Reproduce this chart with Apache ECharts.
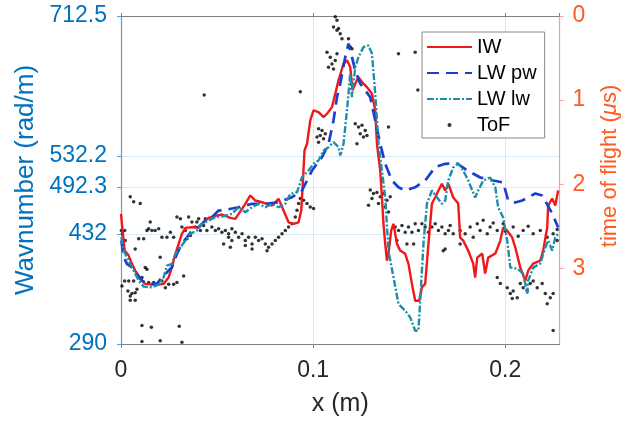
<!DOCTYPE html>
<html>
<head>
<meta charset="utf-8">
<script src="https://cdn.jsdelivr.net/npm/echarts@6/dist/echarts.min.js"></script>
<style>html,body{margin:0;padding:0;background:#fff}#c{width:634px;height:423px}</style>
</head>
<body>
<div id="c"></div>
<script>
// ---- data ----
const xTicks = [0, 0.1, 0.2];
const leftTicks = [290, 432, 492.3, 532.2, 712.5];
const rightTicks = [0, 1, 2, 3];
const seriesNames = ['IW', 'LW pw', 'LW lw', 'ToF'];

const iw = [[0.000,457.6],[0.0008,436.1],[0.0019,410.3],[0.0040,403.9],[0.0057,393.2],[0.0074,384.5],[0.0100,373.8],[0.0126,367.4],[0.0161,366.5],[0.0196,366.5],[0.0222,367.4],[0.0248,375.9],[0.0265,388.8],[0.0283,406.1],[0.0300,419.0],[0.0317,431.8],[0.0335,439.6],[0.0369,440.4],[0.0404,440.4],[0.0430,446.8],[0.0456,452.5],[0.0491,455.1],[0.0525,456.8],[0.0569,452.5],[0.0595,451.2],[0.0647,470.6],[0.0673,481.3],[0.0699,474.8],[0.0734,472.6],[0.0760,470.6],[0.0786,468.4],[0.0820,477.0],[0.0846,461.9],[0.0872,446.8],[0.0898,444.8],[0.0924,446.8],[0.0938,461.9],[0.0945,492.0],[0.0955,539.3],[0.0968,547.9],[0.0985,578.0],[0.1002,590.9],[0.1028,588.7],[0.1054,582.2],[0.1072,586.6],[0.1098,595.1],[0.1115,612.4],[0.1132,629.6],[0.1158,651.1],[0.1176,655.4],[0.1193,646.7],[0.1205,616.7],[0.1219,625.3],[0.1236,633.8],[0.1254,627.4],[0.1280,620.9],[0.1306,612.4],[0.1323,590.9],[0.1332,547.9],[0.1349,513.5],[0.1358,479.1],[0.1366,444.8],[0.1375,419.0],[0.1384,397.4],[0.1392,406.1],[0.1406,436.1],[0.1418,444.8],[0.1436,419.0],[0.1453,410.3],[0.1479,406.1],[0.1496,393.2],[0.1514,367.4],[0.1531,345.8],[0.1552,345.8],[0.1566,363.0],[0.1583,367.4],[0.1600,419.0],[0.1618,470.6],[0.1635,479.1],[0.1652,487.7],[0.1670,496.3],[0.1687,487.7],[0.1704,496.3],[0.1729,478.7],[0.1755,470.9],[0.1765,427.1],[0.1781,423.2],[0.1807,410.3],[0.1833,393.6],[0.1843,375.5],[0.1854,401.3],[0.1880,406.5],[0.1895,380.7],[0.1911,401.3],[0.1948,406.5],[0.1974,423.2],[0.1989,440.0],[0.2010,436.1],[0.2036,427.1],[0.2052,414.2],[0.2078,388.4],[0.2104,371.6],[0.2119,384.5],[0.2145,393.6],[0.2182,397.4],[0.2197,410.3],[0.2218,440.0],[0.2223,468.4],[0.2244,477.4],[0.2260,468.4],[0.2275,487.7]];

const lwPw = [[0.0002,423.2],[0.0014,401.7],[0.0031,393.2],[0.0057,388.8],[0.0083,380.3],[0.0109,371.6],[0.0144,367.4],[0.0187,367.4],[0.0213,375.9],[0.0265,388.8],[0.0291,406.1],[0.0317,419.0],[0.0343,427.5],[0.0369,436.1],[0.0404,440.4],[0.0439,449.0],[0.0473,453.3],[0.0508,461.9],[0.0543,462.8],[0.0612,466.2],[0.0682,470.6],[0.0751,470.6],[0.0820,472.6],[0.0890,479.1],[0.0942,487.7],[0.0994,513.5],[0.1046,530.6],[0.1080,547.9],[0.1106,578.0],[0.1124,608.0],[0.1141,625.3],[0.1167,659.6],[0.1184,676.9],[0.1202,659.6],[0.1219,642.5],[0.1245,625.3],[0.1271,616.7],[0.1297,608.0],[0.1323,578.0],[0.1349,547.9],[0.1375,522.1],[0.1410,500.6],[0.1444,491.9],[0.1479,487.7],[0.1531,491.9],[0.1583,500.6],[0.1635,517.8],[0.1687,522.1],[0.1750,522.5],[0.1802,513.5],[0.1870,504.5],[0.1937,500.6],[0.1989,498.0],[0.2015,474.8],[0.2052,472.2],[0.2088,474.8],[0.2156,483.8],[0.2192,481.3],[0.2244,458.0],[0.2275,440.0]];

const lwLw = [[0.0002,427.5],[0.0014,410.3],[0.0040,397.4],[0.0066,384.5],[0.0092,371.6],[0.0118,363.9],[0.0161,363.0],[0.0196,366.5],[0.0222,375.9],[0.0239,391.0],[0.0265,393.2],[0.0283,406.1],[0.0309,414.6],[0.0335,423.2],[0.0360,431.9],[0.0395,436.1],[0.0421,444.8],[0.0456,449.0],[0.0491,453.3],[0.0525,454.2],[0.0577,457.7],[0.0612,466.2],[0.0647,459.7],[0.0682,466.2],[0.0716,470.6],[0.0751,466.2],[0.0786,470.6],[0.0820,466.2],[0.0855,470.6],[0.0881,483.4],[0.0916,485.5],[0.0942,504.9],[0.0976,513.5],[0.1002,522.1],[0.1028,526.4],[0.1054,539.3],[0.1080,543.5],[0.1106,550.0],[0.1132,543.5],[0.1141,532.8],[0.1158,547.9],[0.1176,590.9],[0.1193,638.2],[0.1202,608.0],[0.1219,646.7],[0.1236,659.6],[0.1262,672.5],[0.1288,674.7],[0.1306,664.0],[0.1323,612.4],[0.1340,547.9],[0.1358,513.5],[0.1375,479.1],[0.1392,410.3],[0.1418,375.9],[0.1444,341.6],[0.1479,332.9],[0.1505,324.3],[0.1531,307.1],[0.1548,307.1],[0.1557,345.8],[0.1574,419.0],[0.1592,470.6],[0.1618,487.7],[0.1644,479.1],[0.1670,470.6],[0.1687,474.8],[0.1703,500.6],[0.1729,517.4],[0.1755,522.5],[0.1781,513.5],[0.1807,500.6],[0.1843,478.7],[0.1859,487.7],[0.1885,500.6],[0.1921,504.5],[0.1948,491.6],[0.1963,465.8],[0.1989,452.9],[0.2010,423.2],[0.2026,388.4],[0.2062,387.1],[0.2093,380.7],[0.2114,354.9],[0.2119,371.6],[0.2145,388.4],[0.2182,393.6],[0.2208,414.2],[0.2223,423.2],[0.2244,410.3],[0.2260,427.1],[0.2275,432.3]];

// time of flight (microseconds) samples
const tof = [[0.0002,2.55],[0.0008,2.59],[0.0019,2.55],[0.0022,2.67],[0.0005,3.21],[0.0019,3.15],[0.0040,3.15],[0.0036,3.27],[0.0048,3.33],[0.0057,3.30],[0.0074,3.29],[0.0066,3.15],[0.0083,3.25],[0.0092,3.11],[0.0048,3.38],[0.0074,3.38],[0.0048,2.15],[0.0066,2.21],[0.0100,2.23],[0.0074,2.77],[0.0092,2.65],[0.0118,2.65],[0.0135,2.55],[0.0144,2.53],[0.0152,2.45],[0.0161,2.55],[0.0178,2.55],[0.0196,2.53],[0.0126,2.99],[0.0135,3.01],[0.0109,3.11],[0.0144,3.17],[0.0170,3.17],[0.0187,3.19],[0.0213,3.15],[0.0231,3.23],[0.0248,3.19],[0.0274,3.19],[0.0291,3.17],[0.0326,3.09],[0.0204,2.87],[0.0213,2.63],[0.0239,2.63],[0.0257,2.57],[0.0274,2.63],[0.0291,2.39],[0.0309,2.41],[0.0317,2.51],[0.0335,2.55],[0.0352,2.39],[0.0369,2.45],[0.0387,2.51],[0.0395,2.45],[0.0413,2.55],[0.0430,2.49],[0.0447,2.55],[0.0473,2.51],[0.0491,2.55],[0.0508,2.53],[0.0525,2.57],[0.0543,2.55],[0.0560,2.63],[0.0534,2.71],[0.0439,2.41],[0.0404,2.41],[0.0343,2.65],[0.0361,2.61],[0.0109,3.68],[0.0158,3.70],[0.0303,3.69],[0.0109,3.87],[0.0204,3.86],[0.0317,3.88],[0.0433,0.94],[0.0560,2.59],[0.0577,2.53],[0.0595,2.57],[0.0612,2.63],[0.0630,2.59],[0.0647,2.67],[0.0664,2.63],[0.0682,2.71],[0.0699,2.63],[0.0716,2.67],[0.0734,2.65],[0.0751,2.71],[0.0768,2.75],[0.0786,2.71],[0.0803,2.67],[0.0820,2.63],[0.0838,2.59],[0.0855,2.55],[0.0872,2.51],[0.0890,2.47],[0.0907,2.39],[0.0916,2.31],[0.0924,2.23],[0.0933,2.17],[0.0950,2.19],[0.0968,2.23],[0.0985,2.27],[0.1002,2.29],[0.0577,2.67],[0.0647,2.73],[0.0682,2.77],[0.0760,2.79],[0.0569,2.75],[0.0933,0.90],[0.1028,1.34],[0.1046,1.36],[0.1037,1.42],[0.1020,1.44],[0.1054,1.46],[0.1028,1.50],[0.1063,1.40],[0.1072,0.43],[0.1089,0.49],[0.1098,0.57],[0.1106,0.63],[0.1115,0.53],[0.1080,0.61],[0.1124,0.45],[0.1106,0.13],[0.1124,0.17],[0.1115,0.01],[0.1132,0.15],[0.1141,0.21],[0.1150,0.27],[0.1184,0.27],[0.1193,0.37],[0.1202,0.39],[0.1124,0.05],[0.1219,1.28],[0.1236,1.32],[0.1254,1.30],[0.1271,1.36],[0.1245,1.40],[0.1280,1.42],[0.1262,1.44],[0.1228,1.52],[0.1444,0.45],[0.1531,0.43],[0.1545,0.88],[0.1392,1.32],[0.1297,2.07],[0.1314,2.11],[0.1332,2.10],[0.1349,2.15],[0.1366,2.11],[0.1384,2.19],[0.1401,2.15],[0.1306,2.17],[0.1288,2.25],[0.1375,2.27],[0.1392,2.33],[0.1340,2.23],[0.1427,2.51],[0.1444,2.55],[0.1462,2.49],[0.1479,2.57],[0.1496,2.51],[0.1514,2.57],[0.1531,2.47],[0.1548,2.55],[0.1566,2.47],[0.1583,2.51],[0.1600,2.57],[0.1618,2.51],[0.1635,2.47],[0.1652,2.55],[0.1670,2.51],[0.1687,2.59],[0.1704,2.55],[0.1488,2.71],[0.1523,2.71],[0.1687,2.77],[0.1436,2.67],[0.1729,2.59],[0.1765,2.55],[0.1817,2.51],[0.1854,2.47],[0.1885,2.43],[0.1921,2.51],[0.1958,2.55],[0.1989,2.47],[0.2041,2.51],[0.2093,2.55],[0.2145,2.59],[0.2182,2.55],[0.2218,2.63],[0.2249,2.59],[0.1677,2.79],[0.1765,2.71],[0.1833,2.63],[0.1958,3.11],[0.1974,3.18],[0.2010,3.23],[0.2026,3.30],[0.2041,3.27],[0.2078,3.18],[0.2093,3.23],[0.2114,3.27],[0.2130,3.18],[0.2145,3.15],[0.2166,3.23],[0.2192,3.18],[0.2208,3.30],[0.2234,3.35],[0.2218,3.42],[0.2249,3.30],[0.2062,3.35],[0.2036,3.36],[0.2249,3.74],[0.1791,2.59],[0.1906,2.59],[0.2000,2.56],[0.2067,2.62],[0.2119,2.50],[0.2270,2.54],[0.2270,2.67],[0.1713,2.49],[0.1869,2.55],[0.1937,2.46]];

// ---- chart ----
const FONT = '"Liberation Sans", Arial, sans-serif';
const BLUE = '#0072BD', ORANGE = '#FF5A1F', GREY = '#262626';
const chart = echarts.init(document.getElementById('c'), null, {renderer: 'canvas'});
chart.setOption({
  animation: false,
  backgroundColor: '#fff',
  textStyle: {fontFamily: FONT},
  grid: {left: 121, top: 16, width: 438.5, height: 328, containLabel: false},
  legend: {
    orient: 'vertical', left: 422, top: 32,
    data: seriesNames.map(function (n, i) {
      return i < 3 ? {name: n, itemStyle: {opacity: 0}} : {name: n};
    }),
    itemWidth: 45, itemHeight: 4, itemGap: 6,
    padding: [5, 8, 3, 4],
    borderColor: '#8a8a8a', borderWidth: 1, backgroundColor: '#fff',
    textStyle: {fontSize: 20, color: '#000', fontFamily: FONT}
  },
  xAxis: [{
    type: 'value', min: 0, max: 0.2282, interval: 0.1,
    name: 'x (m)', nameLocation: 'middle', nameGap: 48,
    nameTextStyle: {fontSize: 25, color: GREY, fontFamily: FONT},
    axisLine: {show: true, onZero: false, lineStyle: {color: '#808080', width: 1}},
    axisTick: {show: true, inside: false, length: 4, lineStyle: {color: '#808080'}},
    axisLabel: {fontSize: 23, color: GREY, margin: 15, showMaxLabel: false, fontFamily: FONT},
    splitLine: {show: true, lineStyle: {color: '#e4e4e4', width: 1}}
  }, {
    type: 'value', position: 'top', min: 0, max: 0.2282, interval: 0.1,
    axisLine: {show: true, onZero: false, lineStyle: {color: '#808080', width: 1}},
    axisTick: {show: true, length: 3, lineStyle: {color: '#808080'}},
    axisLabel: {show: false}, splitLine: {show: false}
  }],
  yAxis: [{
    type: 'value', min: 290, max: 712.5, position: 'left',
    name: 'Wavnumber (rad/m)', nameLocation: 'middle', nameGap: 79,
    nameTextStyle: {fontSize: 26, color: BLUE, fontFamily: FONT},
    axisLine: {show: true, onZero: false, lineStyle: {color: '#5a9bd5', width: 1.2}},
    axisTick: {show: true, length: 4, customValues: leftTicks, lineStyle: {color: '#5a9bd5'}},
    axisLabel: {fontSize: 23, color: BLUE, margin: 14, customValues: leftTicks, fontFamily: FONT},
    splitLine: {show: true, lineStyle: {color: '#d8ebf7', width: 1}}
  }, {
    type: 'value', min: 0, max: 3.9, inverse: true, position: 'right',
    name: 'time of flight ({i|μ}s)', nameLocation: 'middle', nameGap: 39,
    nameTextStyle: {fontSize: 22, color: ORANGE, fontFamily: FONT, padding: [0, 0, 0, 28],
      rich: {i: {fontStyle: 'italic', fontSize: 22, color: ORANGE, fontFamily: FONT}}},
    axisLine: {show: true, onZero: false, lineStyle: {color: '#f4a0a0', width: 1.2}},
    axisTick: {show: true, length: 4, customValues: rightTicks, lineStyle: {color: '#f4a0a0'}},
    axisLabel: {fontSize: 23, color: ORANGE, margin: 13, customValues: rightTicks, fontFamily: FONT},
    splitLine: {show: false}
  }],
  series: [{
    name: seriesNames[0], type: 'line', data: iw, xAxisIndex: 0, yAxisIndex: 0,
    symbol: 'none', color: '#f01818', lineStyle: {width: 2.4, color: '#f01818'}
  }, {
    name: seriesNames[1], type: 'line', data: lwPw, xAxisIndex: 0, yAxisIndex: 0,
    symbol: 'none', color: '#1b3fcf', lineStyle: {width: 2.7, color: '#1b3fcf', type: [12, 7]}
  }, {
    name: seriesNames[2], type: 'line', data: lwLw, xAxisIndex: 0, yAxisIndex: 0,
    symbol: 'none', color: '#1f8fa9', lineStyle: {width: 2.4, color: '#1f8fa9', type: [7, 2, 2, 2]}
  }, {
    name: seriesNames[3], type: 'scatter', data: tof, xAxisIndex: 0, yAxisIndex: 1,
    symbol: 'circle', symbolSize: 3.5, color: '#000', itemStyle: {color: '#000'}
  }]
});
</script>
</body>
</html>
